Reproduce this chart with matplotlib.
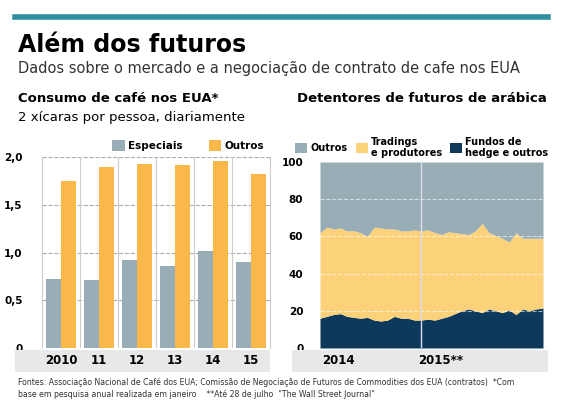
import matplotlib.pyplot as plt
import numpy as np

years = ["2010", "11", "12", "13", "14", "15"]
especiais = [0.72, 0.71, 0.92, 0.86, 1.02, 0.90]
outros = [1.75, 1.90, 1.93, 1.92, 1.96, 1.82]

fundos = [16, 17, 18, 18.5, 17, 16.5, 16, 16.5, 15, 14.5, 15, 17, 16, 16, 15, 15,
          15.5, 15, 16, 17, 18.5, 20, 21, 20, 19, 21, 20, 19, 20.5, 18, 21, 20, 21, 21.5]
topo_trad = [62, 65, 64, 64.5, 63, 63, 62, 60, 65, 64.5, 64, 64, 63, 63, 63.5, 63,
             63.5, 62, 61, 62.5, 62, 61.5, 61, 63, 67, 62, 60.5, 59, 57, 62, 59, 59, 59, 59]
ano_labels = ["2014", "2015**"]
split = 15

GREY = "#98adb5"
ORANGE = "#fbb84a"
TRAD = "#fbd27a"
NAVY = "#0d3a5c"
BAND = "#e6e8ea"

fig = plt.figure(figsize=(5.7, 4.17), dpi=100)
W, H = 570, 417
def ax_at(x0, y0, x1, y1):
    return fig.add_axes([x0 / W, 1 - y1 / H, (x1 - x0) / W, (y1 - y0) / H])

fig.add_artist(plt.Line2D([15 / W, 548 / W], [1 - 17 / H] * 2, color="#2e8fa0", lw=4))
fig.text(18 / W, 1 - 45 / H, "Além dos futuros", fontsize=17, fontweight="bold", va="center")
fig.text(18 / W, 1 - 69 / H, "Dados sobre o mercado e a negociação de contrato de cafe nos EUA",
         fontsize=10.5, va="center", color="#333")
fig.text(18 / W, 1 - 98 / H, "Consumo de café nos EUA*", fontsize=9.5, fontweight="bold", va="center")
fig.text(18 / W, 1 - 118 / H, "2 xícaras por pessoa, diariamente", fontsize=9.5, va="center")
fig.text(297 / W, 1 - 98 / H, "Detentores de futuros de arábica", fontsize=9.5, fontweight="bold", va="center")

# Left bar chart
ax = ax_at(42, 157, 270, 348)
x = np.arange(len(years))
w = 0.38
ax.bar(x - 0.2, especiais, w, color=GREY, label="Especiais")
ax.bar(x + 0.2, outros, w, color=ORANGE, label="Outros")
ax.set_xlim(-0.5, len(years) - 0.5)
ax.set_ylim(0, 2.0)
ax.set_yticks([0, 0.5, 1.0, 1.5, 2.0])
ax.set_yticklabels(["0", "0,5", "1,0", "1,5", "2,0"], fontsize=7.5, fontweight="bold")
for yv in [0.5, 1.0, 1.5, 2.0]:
    ax.axhline(yv, color="#aaa", ls="--", lw=0.8, zorder=0)
for xv in x[1:]:
    ax.axvline(xv - 0.5, color="#ccc", lw=0.8, zorder=0)
ax.set_xticks([])
for s in ax.spines.values():
    s.set_visible(False)
ax.spines["left"].set_visible(True); ax.spines["left"].set_color("#ccc")
ax.spines["right"].set_visible(True); ax.spines["right"].set_color("#ccc")
ax.tick_params(axis="y", length=0, pad=14)
ax.legend(loc="lower right", bbox_to_anchor=(1.0, 1.0), ncol=2, frameon=False,
          handlelength=1.2, handleheight=1.2, borderaxespad=0.2,
          columnspacing=2.5, handletextpad=0.3, prop={"weight": "bold", "size": 7.5})
band = ax_at(15, 350, 270, 372)
band.set_facecolor(BAND); band.set_xticks([]); band.set_yticks([])
band.set_xlim(-0.5 - 27 / 228 * 6, len(years) - 0.5); band.set_ylim(0, 1)
for s in band.spines.values():
    s.set_visible(False)
for i, t in enumerate(years):
    band.text(i, 0.5, t, ha="center", va="center", fontsize=8.5, fontweight="bold")

# Right area chart
ax2 = ax_at(320, 162, 543, 348)
t = np.arange(len(fundos))
f = np.array(fundos); tt = np.array(topo_trad)
ax2.fill_between(t, 0, f, color=NAVY, lw=0, label="Fundos de\nhedge e outros")
ax2.fill_between(t, f, tt, color=TRAD, lw=0, label="Tradings\ne produtores")
ax2.fill_between(t, tt, 100, color=GREY, lw=0, label="Outros")
ax2.set_xlim(0, len(fundos) - 1); ax2.set_ylim(0, 100)
for yv in [20, 40, 60, 80]:
    ax2.axhline(yv, color="white", ls="--", lw=0.8, alpha=0.6)
ax2.axvline(split, color="#dde", lw=1)
ax2.set_yticks([0, 20, 40, 60, 80, 100])
ax2.set_yticklabels(["0", "20", "40", "60", "80", "100"], fontsize=7.5, fontweight="bold")
ax2.tick_params(axis="y", length=0, pad=12)
ax2.set_xticks([])
for s in ax2.spines.values():
    s.set_visible(False)
h, l = ax2.get_legend_handles_labels()
ax2.legend(h[::-1], l[::-1], loc="lower left", bbox_to_anchor=(-0.11, 1.02), ncol=3, frameon=False,
           handlelength=1.2, handleheight=1.2, columnspacing=0.9, handletextpad=0.3,
           borderaxespad=0.0, borderpad=0.0, prop={"weight": "bold", "size": 7})
band2 = ax_at(292, 350, 548, 372)
band2.set_facecolor(BAND); band2.set_xticks([]); band2.set_yticks([])
for s in band2.spines.values():
    s.set_visible(False)
band2.text(30 / 256, 0.5, ano_labels[0], ha="left", va="center", fontsize=8.5, fontweight="bold", transform=band2.transAxes)
band2.text(126 / 256, 0.5, ano_labels[1], ha="left", va="center", fontsize=8.5, fontweight="bold", transform=band2.transAxes)

fig.text(18 / W, 1 - 382 / H,
         "Fontes: Associação Nacional de Café dos EUA; Comissão de Negociação de Futuros de Commodities dos EUA (contratos)  *Com",
         fontsize=5.6, va="center", color="#333")
fig.text(18 / W, 1 - 394 / H,
         "base em pesquisa anual realizada em janeiro    **Até 28 de julho  \"The Wall Street Journal\"",
         fontsize=5.6, va="center", color="#333")

fig.savefig("out.png", dpi=100)
